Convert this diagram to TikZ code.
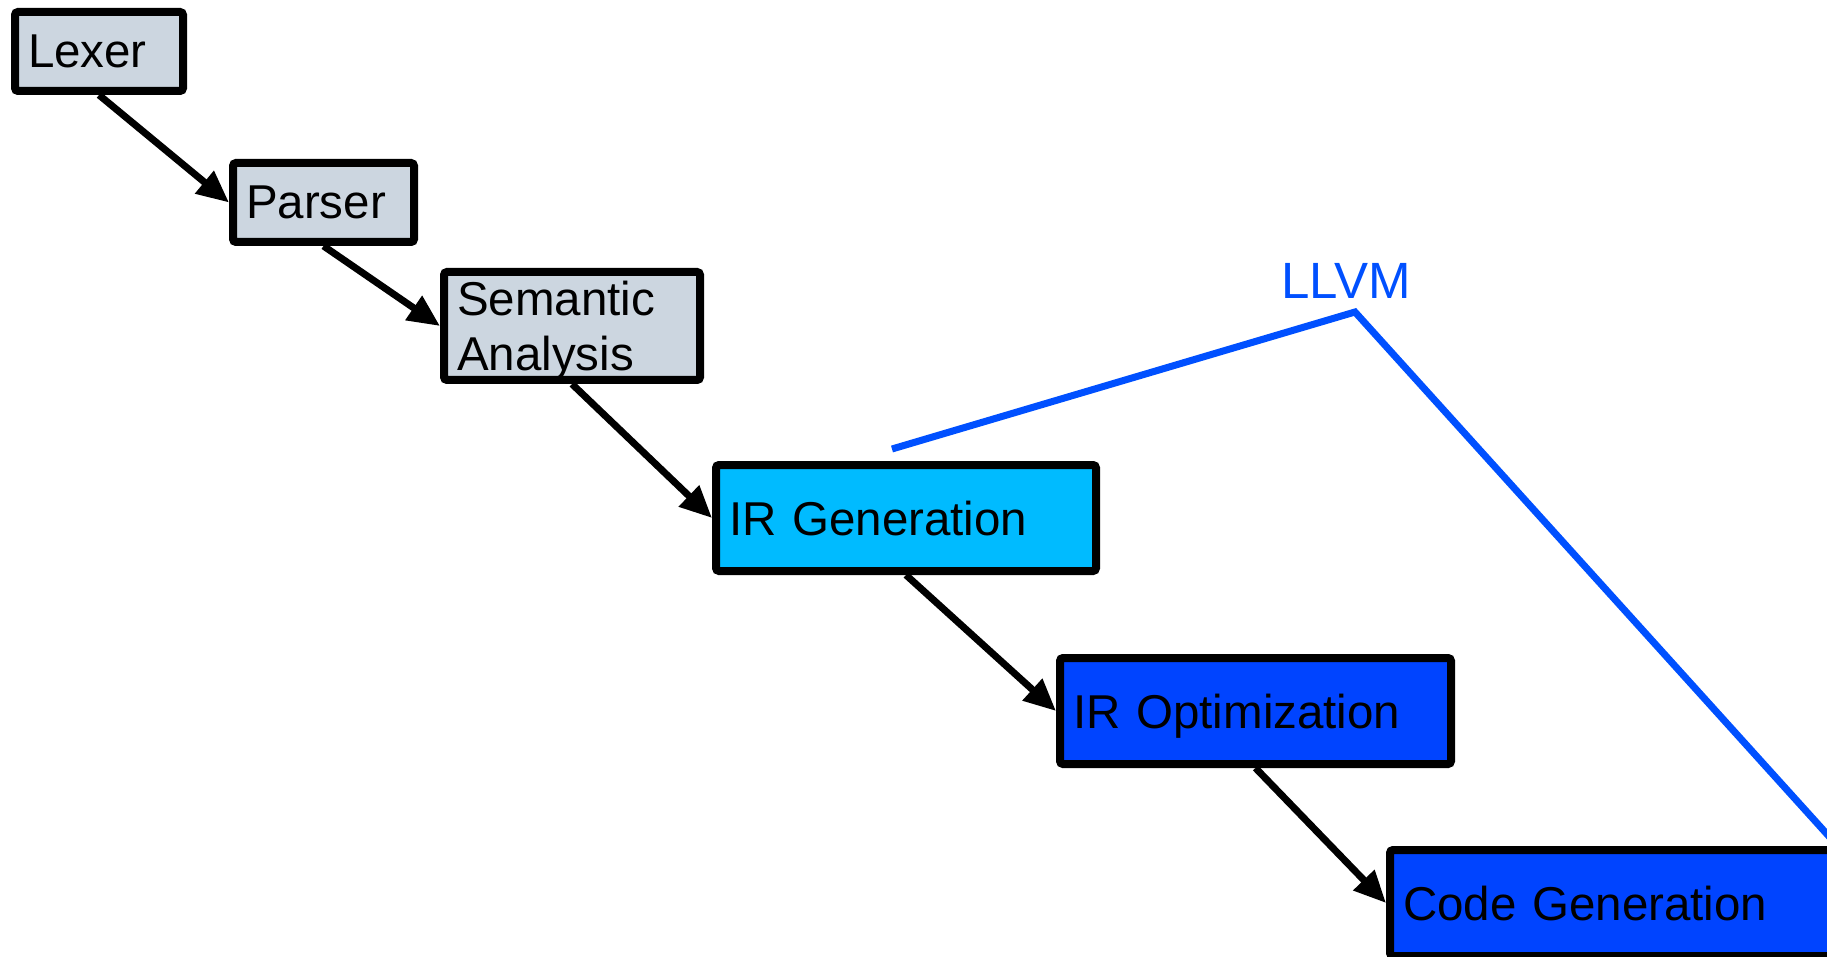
\documentclass[tikz,border=0pt]{standalone}
\usepackage{fontspec}
\setmainfont{Liberation Sans}
\usetikzlibrary{arrows.meta}
\definecolor{frontgray}{RGB}{204,214,224}
\definecolor{ircyan}{RGB}{0,187,255}
\definecolor{backblue}{RGB}{0,68,255}
\definecolor{llvmblue}{RGB}{0,80,255}
\begin{document}
\begin{tikzpicture}[x=0.5pt, y=-0.5pt,
    phase/.style={draw=black, line width=4pt, rounded corners=1.5pt, align=left,
      inner xsep=6.5pt, inner ysep=0pt, text depth=0pt,
      font=\fontsize{23.75}{27.5}\selectfont},
    flow/.style={black, line width=3.5pt, -{Triangle[length=16pt,width=14pt]}}]
  \clip (0,0) rectangle (1827,957);

  % front end
  \node[phase, fill=frontgray, text width=71pt, minimum height=39.5pt] (lexer) at (99,51.5) {Lexer};
  \node[phase, fill=frontgray, text width=77.5pt, minimum height=39.5pt] (parser) at (323.5,202.5) {Parser};
  \node[phase, fill=frontgray, text width=115pt, minimum height=54pt, text height=17pt, text depth=27.5pt] (sema) at (572,326) {Semantic\\Analysis};

  % middle and back end
  \node[phase, fill=ircyan, text width=177pt, minimum height=53pt] (irgen) at (906,518) {IR Generation};
  \node[phase, fill=backblue, text width=182.5pt, minimum height=53pt] (iropt) at (1255.5,711) {IR Optimization};
  \node[phase, fill=backblue, text width=286.5pt, minimum height=53pt] (codegen) at (1689.5,903) {Code Generation};

  \draw[flow] (lexer.south) -- (parser.west);
  \draw[flow] (parser.south) -- (sema.west);
  \draw[flow] (sema.south) -- (irgen.west);
  \draw[flow] (irgen.south) -- (iropt.west);
  \draw[flow] (iropt.south) -- (codegen.west);

  % LLVM bracket
  \coordinate (llvmstart) at (892,449);
  \coordinate (llvmpeak) at (1355,312);
  \coordinate (llvmend) at (1835,843);
  \draw[llvmblue, line width=3.5pt] (llvmstart) -- (llvmpeak) -- (llvmend);
  \node[text=llvmblue, font=\fontsize{25.5}{30}\selectfont] (llvm) at (1346,281) {LLVM};
\end{tikzpicture}
\end{document}
